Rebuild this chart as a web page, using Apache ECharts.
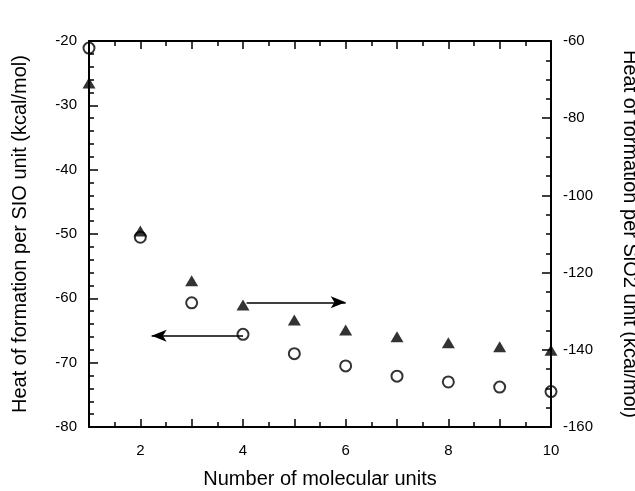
<!DOCTYPE html>
<html>
<head>
<meta charset="utf-8">
<script src="https://cdn.jsdelivr.net/npm/echarts@6/dist/echarts.min.js"></script>
<style>html,body{margin:0;padding:0;background:#fff}#c{width:635px;height:491px}</style>
</head>
<body>
<div id="c"></div>
<script>
// Number of molecular units
const units = [1, 2, 3, 4, 5, 6, 7, 8, 9, 10];
// Heat of formation per SiO unit (kcal/mol) - open circles, left axis
const perSiO = [-21.1, -50.5, -60.7, -65.6, -68.6, -70.5, -72.1, -73.0, -73.8, -74.5];
// Heat of formation per SiO2 unit (kcal/mol) - filled triangles, right axis
const perSiO2 = [-70.9, -109.2, -122.1, -128.4, -132.3, -134.9, -136.6, -138.2, -139.2, -140.1];
// arrows: [x start, x end, y]
const arrowLeft = [4, 2.22, -65.8];
const arrowRight = [4.07, 6.0, -127.7];
const xLabels = ['2', '4', '6', '8', '10'];

const font = 'Liberation Sans, Arial, Helvetica, sans-serif';
const chart = echarts.init(document.getElementById('c'));
const axisLine = {show: true, onZero: false, lineStyle: {color: '#000', width: 2}};
chart.setOption({
  animation: false,
  backgroundColor: '#fff',
  grid: {left: 89, right: 84, top: 41, bottom: 64, containLabel: false, outerBoundsMode: 'none'},
  xAxis: [{
    type: 'value', min: 1, max: 10, interval: 1,
    name: 'Number of molecular units', nameLocation: 'middle', nameGap: 42,
    nameTextStyle: {fontFamily: font, fontSize: 20, color: '#000'},
    axisLine: axisLine,
    axisTick: {show: true, inside: true, length: 8, lineStyle: {color: '#000', width: 1.5}},
    minorTick: {show: true, splitNumber: 2, length: 5, lineStyle: {color: '#000', width: 1.5}},
    splitLine: {show: false},
    axisLabel: {fontFamily: font, fontSize: 15, color: '#000', margin: 16,
      formatter: v => xLabels.indexOf(String(v)) >= 0 ? String(v) : ''}
  }, {
    type: 'value', position: 'top', min: 1, max: 10, interval: 1,
    axisLine: axisLine,
    axisTick: {show: true, inside: true, length: 8, lineStyle: {color: '#000', width: 1.5}},
    minorTick: {show: true, splitNumber: 2, length: 5, lineStyle: {color: '#000', width: 1.5}},
    splitLine: {show: false}, axisLabel: {show: false}
  }],
  yAxis: [{
    type: 'value', min: -80, max: -20, interval: 10, position: 'left',
    name: 'Heat of formation per SIO unit (kcal/mol)', nameLocation: 'middle', nameGap: 59, nameRotate: 90,
    nameTextStyle: {fontFamily: font, fontSize: 20, color: '#000'},
    axisLine: axisLine,
    axisTick: {show: true, inside: true, length: 9, lineStyle: {color: '#000', width: 1.5}},
    minorTick: {show: true, splitNumber: 5, length: 5, lineStyle: {color: '#000', width: 1.5}},
    splitLine: {show: false},
    axisLabel: {fontFamily: font, fontSize: 15, color: '#000', margin: 12}
  }, {
    type: 'value', min: -160, max: -60, interval: 20, position: 'right',
    name: 'Heat of formation per SiO2 unit (kcal/mol)', nameLocation: 'middle', nameGap: 69, nameRotate: -90,
    nameTextStyle: {fontFamily: font, fontSize: 20, color: '#000'},
    axisLine: axisLine,
    axisTick: {show: true, inside: true, length: 9, lineStyle: {color: '#000', width: 1.5}},
    minorTick: {show: true, splitNumber: 4, length: 5, lineStyle: {color: '#000', width: 1.5}},
    splitLine: {show: false},
    axisLabel: {fontFamily: font, fontSize: 15, color: '#000', margin: 12}
  }],
  series: [{
    type: 'scatter', xAxisIndex: 0, yAxisIndex: 0, clip: false, z: 5,
    symbol: 'circle', symbolSize: 11,
    itemStyle: {color: 'rgba(0,0,0,0)', borderColor: '#000', borderWidth: 2},
    data: units.map((u, i) => [u, perSiO[i]]),
    markLine: {
      silent: true, symbol: ['none', 'arrow'], symbolSize: [9, 15],
      label: {show: false},
      lineStyle: {color: '#000', width: 1.5, type: 'solid'},
      data: [[{coord: [arrowLeft[0], arrowLeft[2]]}, {coord: [arrowLeft[1], arrowLeft[2]]}]]
    }
  }, {
    type: 'scatter', xAxisIndex: 0, yAxisIndex: 1, clip: false, z: 5,
    symbol: 'triangle', symbolSize: [13, 11],
    itemStyle: {color: '#000'},
    data: units.map((u, i) => [u, perSiO2[i]]),
    markLine: {
      silent: true, symbol: ['none', 'arrow'], symbolSize: [9, 15],
      label: {show: false},
      lineStyle: {color: '#000', width: 1.5, type: 'solid'},
      data: [[{coord: [arrowRight[0], arrowRight[2]]}, {coord: [arrowRight[1], arrowRight[2]]}]]
    }
  }]
});
</script>
</body>
</html>
